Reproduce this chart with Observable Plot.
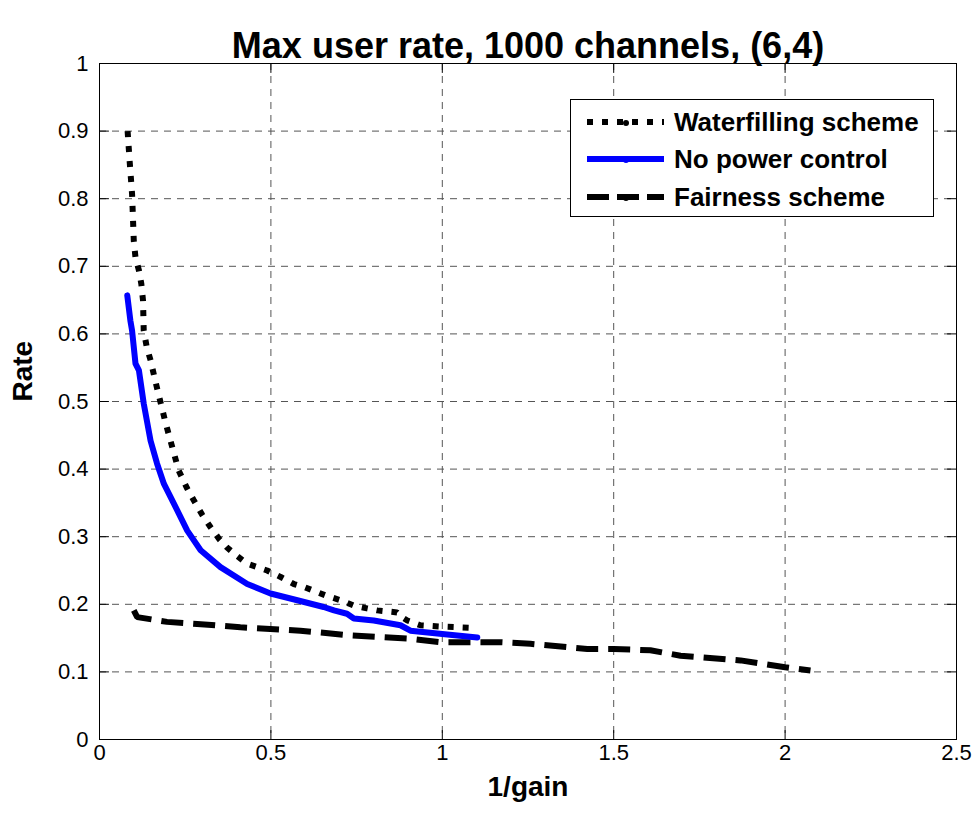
<!DOCTYPE html>
<html>
<head>
<meta charset="utf-8">
<script src="https://cdn.jsdelivr.net/npm/d3@7"></script>
<script src="https://cdn.jsdelivr.net/npm/@observablehq/plot@0.6"></script>
<style>
  html, body { margin: 0; padding: 0; background: white; }
  #wrap { position: relative; width: 979px; height: 817px; font-family: "Liberation Sans", Arial, sans-serif; }
  #legend { position: absolute; left: 570px; top: 99px; width: 364px; height: 118px; background: white; border: 1px solid black; box-sizing: border-box; }
  .row { position: absolute; left: 0; height: 36px; display: flex; align-items: center; }
  .row svg { margin-left: 16px; }
  .row span { margin-left: 10px; font-weight: bold; font-size: 26px; color: black; white-space: nowrap; }
</style>
</head>
<body>
<div id="wrap"></div>
<script>
const titleText = "Max user rate, 1000 channels, (6,4)";
const xLabel = "1/gain";
const yLabel = "Rate";
const xTicks = [0, 0.5, 1, 1.5, 2, 2.5];
const yTicks = [0, 0.1, 0.2, 0.3, 0.4, 0.5, 0.6, 0.7, 0.8, 0.9, 1];
const seriesNames = ["Waterfilling scheme", "No power control", "Fairness scheme"];

const waterX = [0.082, 0.088, 0.095, 0.1, 0.105, 0.115, 0.122, 0.127, 0.129, 0.138, 0.149, 0.163, 0.178, 0.192, 0.207, 0.231, 0.255, 0.275, 0.3, 0.324, 0.35, 0.372, 0.4, 0.431, 0.46, 0.489, 0.53, 0.567, 0.6, 0.625, 0.66, 0.703, 0.742, 0.78, 0.81, 0.868, 0.885, 0.898, 0.936, 1.0, 1.05, 1.1];
const waterY = [0.9, 0.855, 0.807, 0.738, 0.713, 0.694, 0.674, 0.649, 0.605, 0.58, 0.561, 0.53, 0.499, 0.47, 0.442, 0.398, 0.372, 0.354, 0.332, 0.314, 0.296, 0.284, 0.272, 0.26, 0.255, 0.25, 0.24, 0.23, 0.225, 0.22, 0.213, 0.206, 0.198, 0.194, 0.191, 0.188, 0.18, 0.176, 0.169, 0.167, 0.166, 0.165];

const noPcX = [0.081, 0.09, 0.095, 0.105, 0.115, 0.129, 0.149, 0.168, 0.188, 0.217, 0.256, 0.295, 0.353, 0.431, 0.499, 0.577, 0.654, 0.684, 0.722, 0.742, 0.8, 0.878, 0.907, 1.0, 1.102];
const noPcY = [0.657, 0.62, 0.605, 0.556, 0.546, 0.497, 0.442, 0.408, 0.378, 0.349, 0.309, 0.28, 0.255, 0.23, 0.216, 0.206, 0.196, 0.191, 0.186, 0.179, 0.176, 0.169, 0.161, 0.156, 0.151];

const fairX = [0.1, 0.11, 0.197, 0.285, 0.411, 0.586, 0.732, 0.907, 0.995, 1.17, 1.257, 1.423, 1.5, 1.607, 1.695, 1.87, 2.0, 2.074];
const fairY = [0.191, 0.181, 0.174, 0.171, 0.166, 0.161, 0.154, 0.149, 0.144, 0.144, 0.1416, 0.134, 0.134, 0.132, 0.124, 0.117, 0.107, 0.102];

const toRows = (xs, ys) => xs.map((x, i) => ({x, y: ys[i]}));
const water = toRows(waterX, waterY);
const noPc = toRows(noPcX, noPcY);
const fair = toRows(fairX, fairY);

const tickShape = { draw(context, l) { context.moveTo(0, 0); context.lineTo(0, -l); } };
const gridStyle = { stroke: "#555", strokeWidth: 1, strokeDasharray: "7,6" };
const tickStyle = { stroke: "black", strokeWidth: 1, length: 9, shape: tickShape, anchor: "start" };
const fmt = d => String(d);

const chart = Plot.plot({
  width: 979,
  height: 817,
  marginLeft: 99,
  marginRight: 23,
  marginTop: 63,
  marginBottom: 78,
  style: { fontFamily: "'Liberation Sans', Arial, sans-serif", fontSize: "22px", background: "white", color: "black" },
  x: { domain: [0, 2.5] },
  y: { domain: [0, 1] },
  marks: [
    Plot.ruleX(xTicks.slice(1, -1), gridStyle),
    Plot.ruleY(yTicks.slice(1, -1), gridStyle),
    Plot.vector(xTicks, {x: d => d, y: 0, rotate: 0, ...tickStyle}),
    Plot.vector(xTicks, {x: d => d, y: 1, rotate: 180, ...tickStyle}),
    Plot.vector(yTicks, {x: 0, y: d => d, rotate: 90, ...tickStyle}),
    Plot.vector(yTicks, {x: 2.5, y: d => d, rotate: -90, ...tickStyle}),
    Plot.axisX(xTicks, {anchor: "bottom", tickSize: 0, tickPadding: 5, fontSize: 22, tickFormat: fmt, label: null}),
    Plot.axisY(yTicks, {anchor: "left", tickSize: 0, tickPadding: 11, fontSize: 22, tickFormat: fmt, label: null}),
    Plot.line(fair, {x: "x", y: "y", stroke: "black", strokeWidth: 6, strokeDasharray: "22,10", strokeLinecap: "butt", strokeLinejoin: "miter"}),
    Plot.line(water, {x: "x", y: "y", stroke: "black", strokeWidth: 6, strokeDasharray: "6,9", strokeLinecap: "butt", strokeLinejoin: "miter"}),
    Plot.line(noPc, {x: "x", y: "y", stroke: "#0000ff", strokeWidth: 6, strokeLinejoin: "round"}),
    Plot.frame({stroke: "black", strokeWidth: 1}),
    Plot.text([titleText], {frameAnchor: "top", dy: -31, fontSize: 36, fontWeight: "bold", fill: "black"}),
    Plot.text([xLabel], {frameAnchor: "bottom", dy: 56, fontSize: 28, fontWeight: "bold", fill: "black"}),
    Plot.text([yLabel], {frameAnchor: "left", dx: -76, rotate: -90, fontSize: 28, fontWeight: "bold", fill: "black"})
  ]
});

const wrap = document.getElementById("wrap");
wrap.appendChild(chart);

const legendStyles = [
  {stroke: "black", dash: "6,9"},
  {stroke: "#0000ff", dash: null},
  {stroke: "black", dash: "22,8"}
];
const legend = document.createElement("div");
legend.id = "legend";
const rowTops = [4, 41, 79];
seriesNames.forEach((name, i) => {
  const row = document.createElement("div");
  row.className = "row";
  row.style.top = rowTops[i] + "px";
  const s = legendStyles[i];
  row.innerHTML = `<svg width="77" height="12"><line x1="0" y1="6" x2="77" y2="6" stroke="${s.stroke}" stroke-width="6" ${s.dash ? `stroke-dasharray="${s.dash}"` : ""}/><circle cx="39" cy="7" r="3" fill="${s.stroke}"/></svg><span>${name}</span>`;
  legend.appendChild(row);
});
wrap.appendChild(legend);
</script>
</body>
</html>
